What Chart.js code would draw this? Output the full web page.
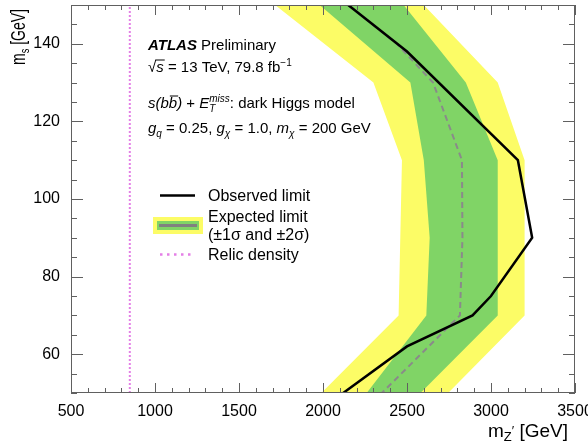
<!DOCTYPE html>
<html>
<head>
<meta charset="utf-8">
<script src="https://cdn.jsdelivr.net/npm/chart.js@4"></script>
<style>
  html, body { margin: 0; padding: 0; background: #fff; }
  #chart { display: block; }
</style>
</head>
<body>
<canvas id="chart" width="588" height="441"></canvas>
<script>
// tick labels
const xTicks = [500, 1000, 1500, 2000, 2500, 3000, 3500];
const yTicks = [60, 80, 100, 120, 140];

// expected limit bands, m_s levels and m_Z' edges
const bandMs = [150, 130, 110, 90, 70, 50];
const yellowLeft = [1715, 2300, 2470, 2460, 2450, 1990];
const greenLeft = [1980, 2520, 2600, 2635, 2615, 2260];
const greenRight = [2480, 2850, 3040, 3040, 3040, 2580];
const yellowRight = [2600, 3040, 3200, 3200, 3200, 2745];

// expected limit (median)
const expMs = [150, 140, 130, 110, 90, 70, 50];
const expMz = [2150, 2440, 2655, 2827, 2830, 2815, 2350];

// observed limit
const obsMs = [150, 138, 110, 90, 75, 70, 62, 50];
const obsMz = [2150, 2500, 3160, 3245, 3000, 2890, 2500, 2120];

// relic density line
const relicMs = [50, 150];
const relicMz = [850, 850];

const FONT = '"Liberation Sans", Arial, Helvetica, sans-serif';
const YELLOW = '#fcfc66';
const GREEN = '#80d466';
const RELIC = '#e47fe6';

function pts(xs, ys) {
    return xs.map((x, i) => ({ x: x, y: ys[i] }));
}

// closed outline: left edge downwards, right edge back up
function band(left, right) {
    const down = pts(left, bandMs);
    const up = pts(right, bandMs).reverse();
    return down.concat(up, [down[0]]);
}

// draws a row of text pieces (sub/superscripts, italics)
function textRow(ctx, x, y, parts) {
    for (const p of parts) {
        ctx.font = p.f;
        ctx.fillText(p.t, x, y + (p.dy || 0));
        const w = ctx.measureText(p.t).width;
        if (p.bar) {
            ctx.save();
            ctx.lineWidth = 1;
            ctx.strokeStyle = '#000';
            ctx.beginPath();
            ctx.moveTo(x + p.bar[0], y - p.bar[2]);
            ctx.lineTo(x + w + p.bar[1], y - p.bar[2]);
            ctx.stroke();
            ctx.restore();
        }
        if (!p.stay) x += w;
    }
    return x;
}

const decor = {
    id: 'decor',
    afterDraw(chart) {
        const ctx = chart.ctx;
        const a = chart.chartArea;
        const xs = chart.scales.x;
        const ys = chart.scales.y;

        // ticks on all four sides, pointing in
        ctx.save();
        ctx.strokeStyle = '#606060';
        ctx.lineWidth = 1;
        ctx.beginPath();
        for (let v = 500; v <= 3500; v += 100) {
            const px = Math.round(xs.getPixelForValue(v)) + 0.5;
            const len = xTicks.includes(v) ? 10 : 5;
            ctx.moveTo(px, a.bottom); ctx.lineTo(px, a.bottom - len);
            ctx.moveTo(px, a.top); ctx.lineTo(px, a.top + len);
        }
        for (let v = 50; v <= 150; v += 5) {
            const py = Math.round(ys.getPixelForValue(v)) + 0.5;
            const len = yTicks.includes(v) ? 12 : 6;
            ctx.moveTo(a.left, py); ctx.lineTo(a.left + len, py);
            ctx.moveTo(a.right, py); ctx.lineTo(a.right - len, py);
        }
        ctx.stroke();
        ctx.strokeRect(a.left + 0.5, a.top + 0.5, a.right - a.left - 1, a.bottom - a.top - 1);
        ctx.restore();

        ctx.save();
        ctx.fillStyle = '#000';
        ctx.textBaseline = 'alphabetic';
        ctx.textAlign = 'left';

        // x axis title
        const xParts = [
            { t: 'm', f: '19px ' + FONT },
            { t: 'Z', f: '13px ' + FONT, dy: 4 },
            { t: '\u2032', f: '13px ' + FONT, dy: -2 },
            { t: ' [GeV]', f: '19px ' + FONT }
        ];
        let w = 0;
        for (const p of xParts) { ctx.font = p.f; w += ctx.measureText(p.t).width; }
        textRow(ctx, 568 - w, 437, xParts);

        // y axis title, rotated
        const yParts = [
            { t: 'm', f: '20px ' + FONT },
            { t: 's', f: '13px ' + FONT, dy: 4 },
            { t: ' [GeV]', f: '20px ' + FONT }
        ];
        w = 0;
        for (const p of yParts) { ctx.font = p.f; w += ctx.measureText(p.t).width; }
        ctx.save();
        ctx.translate(25, 9);
        ctx.rotate(-Math.PI / 2);
        ctx.scale(0.7, 1);
        textRow(ctx, -w, 0, yParts);
        ctx.restore();

        // ATLAS block
        const R = '15px ' + FONT;
        const I = 'italic 15px ' + FONT;
        const SI = 'italic 10px ' + FONT;
        const S = '10px ' + FONT;
        textRow(ctx, 148, 50, [
            { t: 'ATLAS', f: 'italic bold 15px ' + FONT },
            { t: ' Preliminary', f: R }
        ]);
        textRow(ctx, 148, 72, [
            { t: '\u221A', f: R },
            { t: 's', f: I, bar: [-1, 1, 12] },
            { t: ' = 13 TeV, 79.8 fb', f: R },
            { t: '\u22121', f: S, dy: -6 }
        ]);
        textRow(ctx, 148, 108, [
            { t: 's(b', f: I },
            { t: 'b', f: I, bar: [1, 1, 12] },
            { t: ')', f: I },
            { t: ' + ', f: R },
            { t: 'E', f: I },
            { t: 'T', f: SI, dy: 4, stay: true },
            { t: 'miss', f: SI, dy: -6 },
            { t: ': dark Higgs model', f: R }
        ]);
        textRow(ctx, 148, 133, [
            { t: 'g', f: I },
            { t: 'q', f: SI, dy: 4 },
            { t: ' = 0.25, ', f: R },
            { t: 'g', f: I },
            { t: '\u03C7', f: SI, dy: 4 },
            { t: ' = 1.0, ', f: R },
            { t: 'm', f: I },
            { t: '\u03C7', f: SI, dy: 4 },
            { t: ' = 200 GeV', f: R }
        ]);

        // legend
        const L = '16px ' + FONT;
        ctx.strokeStyle = '#000';
        ctx.lineWidth = 2.5;
        ctx.beginPath(); ctx.moveTo(160, 195.5); ctx.lineTo(195, 195.5); ctx.stroke();
        textRow(ctx, 208, 201, [{ t: 'Observed limit', f: L }]);

        ctx.fillStyle = YELLOW;
        ctx.fillRect(153, 217, 50, 17);
        ctx.fillStyle = GREEN;
        ctx.fillRect(157, 221, 42, 9);
        ctx.strokeStyle = '#808080';
        ctx.lineWidth = 3;
        ctx.beginPath(); ctx.moveTo(159, 225.5); ctx.lineTo(197, 225.5); ctx.stroke();
        ctx.fillStyle = '#000';
        textRow(ctx, 208, 222, [{ t: 'Expected limit', f: L }]);
        textRow(ctx, 208, 240, [{ t: '(\u00B11\u03C3 and \u00B12\u03C3)', f: L }]);

        ctx.strokeStyle = RELIC;
        ctx.lineWidth = 2.5;
        ctx.setLineDash([2.5, 4.5]);
        ctx.beginPath(); ctx.moveTo(160, 254.5); ctx.lineTo(193, 254.5); ctx.stroke();
        ctx.setLineDash([]);
        textRow(ctx, 208, 260, [{ t: 'Relic density', f: L }]);
        ctx.restore();
    }
};

const ctx = document.getElementById('chart').getContext('2d');
const chart = new Chart(ctx, {
    type: 'scatter',
    data: {
        datasets: [
            {
                label: 'Observed limit',
                data: pts(obsMz, obsMs),
                showLine: true,
                borderColor: '#000',
                borderWidth: 2.5,
                pointRadius: 0,
                order: 0
            },
            {
                label: 'Expected limit',
                data: pts(expMz, expMs),
                showLine: true,
                borderColor: '#8a8a8a',
                borderWidth: 2,
                borderDash: [6, 4],
                pointRadius: 0,
                order: 1
            },
            {
                label: 'Relic density',
                data: pts(relicMz, relicMs),
                showLine: true,
                borderColor: RELIC,
                borderWidth: 2,
                borderDash: [2, 2],
                pointRadius: 0,
                order: 2
            },
            {
                label: '1 sigma',
                data: band(greenLeft, greenRight),
                showLine: true,
                borderColor: 'transparent',
                backgroundColor: GREEN,
                fill: 'shape',
                pointRadius: 0,
                order: 3
            },
            {
                label: '2 sigma',
                data: band(yellowLeft, yellowRight),
                showLine: true,
                borderColor: 'transparent',
                backgroundColor: YELLOW,
                fill: 'shape',
                pointRadius: 0,
                order: 4
            }
        ]
    },
    options: {
        responsive: false,
        animation: false,
        layout: { padding: { top: 5, right: 13, left: 0, bottom: 0 } },
        plugins: {
            legend: { display: false },
            tooltip: { enabled: false }
        },
        scales: {
            x: {
                type: 'linear',
                min: 500,
                max: 3500,
                grid: { display: false },
                border: { display: false },
                ticks: {
                    font: { family: FONT, size: 16 },
                    color: '#000',
                    padding: 1,
                    maxRotation: 0,
                    autoSkip: false,
                    callback: v => String(v)
                },
                afterBuildTicks: s => { s.ticks = xTicks.map(v => ({ value: v })); },
                afterFit: s => { s.height = 48; s.paddingLeft = 0; s.paddingRight = 0; }
            },
            y: {
                type: 'linear',
                min: 50,
                max: 150,
                grid: { display: false },
                border: { display: false },
                ticks: {
                    font: { family: FONT, size: 16 },
                    color: '#000',
                    padding: 3,
                    autoSkip: false,
                    callback: v => String(v)
                },
                afterBuildTicks: s => { s.ticks = yTicks.map(v => ({ value: v })); },
                afterFit: s => { s.width = 71; s.paddingTop = 0; s.paddingBottom = 0; }
            }
        }
    },
    plugins: [decor]
});
</script>
</body>
</html>
